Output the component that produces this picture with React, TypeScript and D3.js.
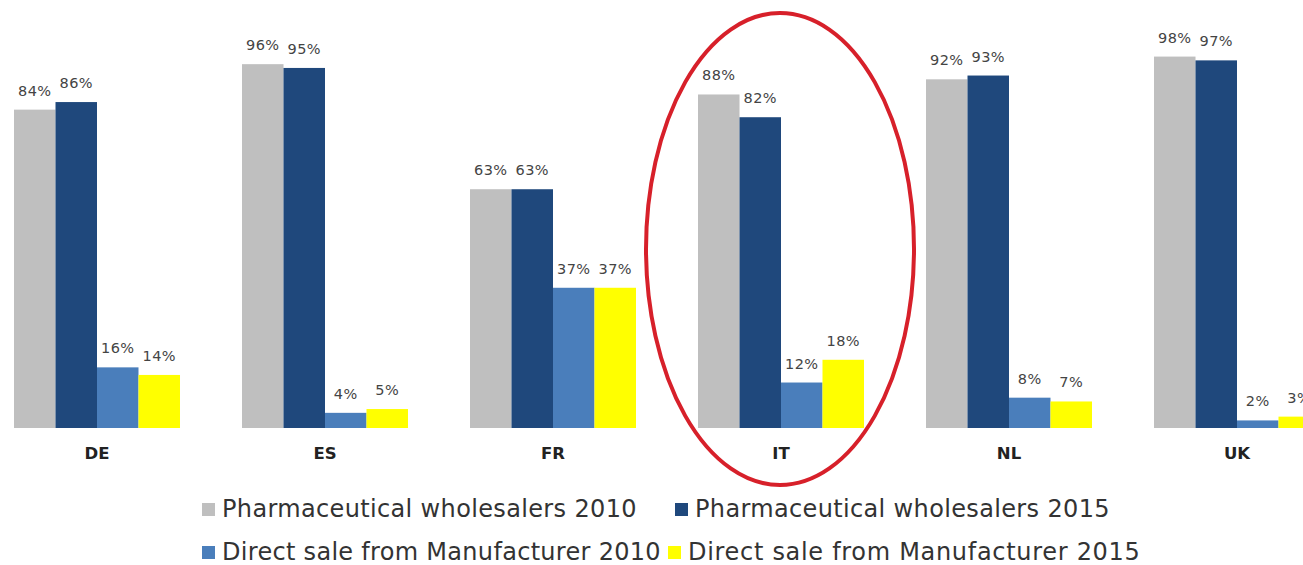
import React from "react";
import * as d3 from "d3";

const categories = ["DE", "ES", "FR", "IT", "NL", "UK"];
const wholesalers2010 = [84, 96, 63, 88, 92, 98];
const wholesalers2015 = [86, 95, 63, 82, 93, 97];
const direct2010 = [16, 4, 37, 12, 8, 2];
const direct2015 = [14, 5, 37, 18, 7, 3];
const seriesNames = [
  "Pharmaceutical wholesalers 2010",
  "Pharmaceutical wholesalers 2015",
  "Direct sale from Manufacturer 2010",
  "Direct sale from Manufacturer 2015",
];
const seriesColors = ["#bfbfbf", "#1f487c", "#4a7ebb", "#ffff00"];
const highlighted = "IT";

const W = 1303;
const H = 565;

export default function App() {
  const series = [wholesalers2010, wholesalers2015, direct2010, direct2015];
  const x = d3
    .scaleBand<string>()
    .domain(categories)
    .range([-17, 1351])
    .paddingInner(0.272)
    .paddingOuter(0.136);
  const xi = d3
    .scaleBand<number>()
    .domain(series.map((_, i) => i))
    .range([0, x.bandwidth()])
    .padding(0);
  const y = d3.scaleLinear().domain([0, 100]).range([428, 49]);

  const hx = (x(highlighted) ?? 0) + x.bandwidth() / 2;

  const legendX = [222, 695, 222, 688];
  const legendSpacing = [0.35, 0.35, 0.3, 0.7];
  const legendRows = [517, 560];

  return (
    <svg
      width={W}
      height={H}
      style={{ position: "absolute", left: 0, top: 0, display: "block", background: "#fff" }}
      fontFamily="'DejaVu Sans', Verdana, sans-serif"
    >
      <rect x={0} y={0} width={W} height={H} fill="#fff" />
      {categories.map((c, ci) => (
        <g key={c} transform={`translate(${x(c)},0)`}>
          {series.map((vals, si) => {
            const v = vals[ci];
            const bx = xi(si) ?? 0;
            return (
              <g key={si}>
                <rect
                  x={bx}
                  y={y(v)}
                  width={xi.bandwidth()}
                  height={y(0) - y(v)}
                  fill={seriesColors[si]}
                />
                <text
                  x={bx + xi.bandwidth() / 2}
                  y={y(v) - 14}
                  textAnchor="middle"
                  fontSize={14.5}
                  letterSpacing={0.4}
                  fill="#444"
                >
                  {v}%
                </text>
              </g>
            );
          })}
          <text
            x={x.bandwidth() / 2}
            y={459}
            textAnchor="middle"
            fontSize={16.5}
            fontWeight="bold"
            fill="#222"
          >
            {c}
          </text>
        </g>
      ))}
      <ellipse
        cx={hx - 1}
        cy={249}
        rx={134}
        ry={236}
        fill="none"
        stroke="#d7202a"
        strokeWidth={4}
      />
      {seriesNames.map((name, i) => {
        const tx = legendX[i];
        const ty = legendRows[Math.floor(i / 2)];
        return (
          <g key={name}>
            <rect x={tx - 20} y={ty - 14} width={13} height={13} fill={seriesColors[i]} />
            <text x={tx} y={ty} fontSize={24} letterSpacing={legendSpacing[i]} fill="#333">
              {name}
            </text>
          </g>
        );
      })}
    </svg>
  );
}
